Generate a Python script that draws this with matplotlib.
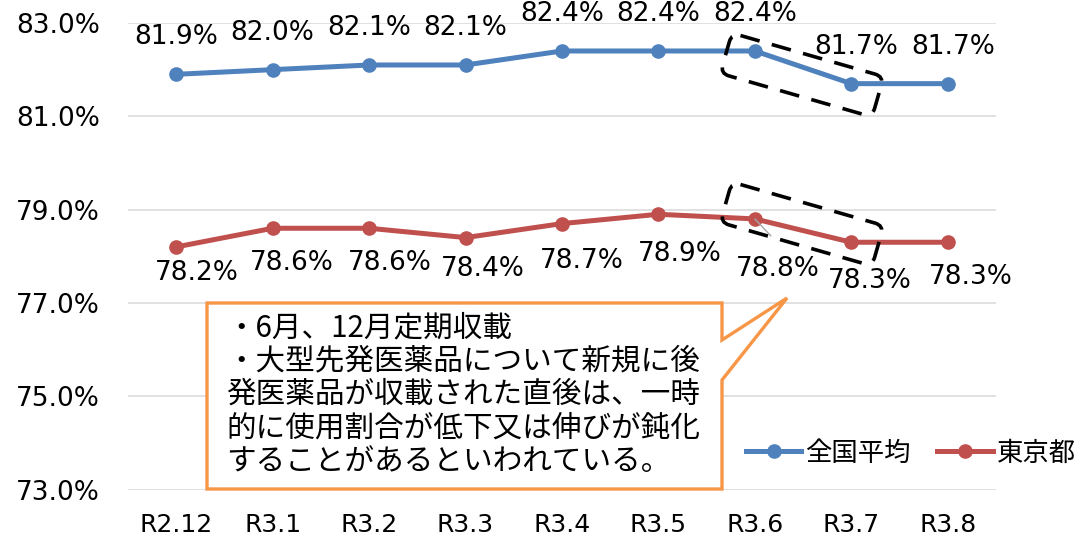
import matplotlib
matplotlib.use("Agg")
import matplotlib.pyplot as plt
from matplotlib.patches import FancyBboxPatch, Polygon
from matplotlib.transforms import Affine2D

# data
months = ["R2.12", "R3.1", "R3.2", "R3.3", "R3.4", "R3.5", "R3.6", "R3.7", "R3.8"]
national = [81.9, 82.0, 82.1, 82.1, 82.4, 82.4, 82.4, 81.7, 81.7]
tokyo = [78.2, 78.6, 78.6, 78.4, 78.7, 78.9, 78.8, 78.3, 78.3]
yticks = [73.0, 75.0, 77.0, 79.0, 81.0, 83.0]
series_names = ["全国平均", "東京都"]

# label offsets in pixels (dx, dy screen-down), hand-placed like the original
tokyo_label_off = [(21, 26), (19, 35), (21, 35), (17, 31), (20, 37),
                   (21, 40), (23, 50), (18, 39), (23, 35)]
nat_label_off = [(0, -37)] * 7 + [(5, -37), (5, -37)]

note = ("・6月、12月定期収載\n"
        "・大型先発医薬品について新規に後\n"
        "発医薬品が収載された直後は、一時\n"
        "的に使用割合が低下又は伸びが鈍化\n"
        "することがあるといわれている。")

BLUE = "#4F81BD"
RED = "#C0504D"
ORANGE = "#F79646"
CJK = ["Noto Sans CJK JP", "DejaVu Sans"]

W, H = 1087, 541
fig = plt.figure(figsize=(W / 100, H / 100), dpi=100)
ax = fig.add_axes([128 / W, 1 - 489.5 / H, 868 / W, 466.5 / H])

x = list(range(len(months)))
l1, = ax.plot(x, national, color=BLUE, lw=3.6, marker="o", ms=9.5, zorder=4)
l2, = ax.plot(x, tokyo, color=RED, lw=3.6, marker="o", ms=9.5, zorder=4)

ax.set_xlim(-0.5, len(months) - 0.5)
ax.set_ylim(73.0, 83.0)
ax.set_yticks(yticks)
ax.set_yticklabels([f"{v:.1f}%" for v in yticks])
ax.set_xticks(x)
ax.set_xticklabels(months)
ax.tick_params(axis="y", length=0, pad=20, labelsize=19)
ax.tick_params(axis="x", length=0, pad=17, labelsize=18)
ax.grid(axis="y", color="#D9D9D9", lw=1.1)
ax.set_axisbelow(True)
for s in ax.spines.values():
    s.set_visible(False)

P = 0.72  # px -> pt
for i, v in enumerate(national):
    dx, dy = nat_label_off[i]
    ax.annotate(f"{v:.1f}%", (i, v), xytext=(dx * P, -dy * P), textcoords="offset points",
                ha="center", va="center", fontsize=19, zorder=6)
for i, v in enumerate(tokyo):
    dx, dy = tokyo_label_off[i]
    ax.annotate(f"{v:.1f}%", (i, v), xytext=(dx * P, -dy * P), textcoords="offset points",
                ha="center", va="center", fontsize=19, zorder=6)

# thin leader line for the moved 78.8% label
ax.annotate("", (6, tokyo[6]), xytext=(16 * P, -17 * P), textcoords="offset points",
            arrowprops=dict(arrowstyle="-", color="#A6A6A6", lw=1.0, shrinkA=0, shrinkB=0),
            zorder=5)

# pixel coords (top-left origin) for the decorations
px = Affine2D().scale(1 / W, -1 / H).translate(0, 1) + fig.transFigure

for cy in (75, 224):
    r = FancyBboxPatch((-79, -21), 158, 42, boxstyle="round,pad=0,rounding_size=9",
                       fill=False, ec="black", lw=2.6, ls=(0, (5.5, 3.5)),
                       transform=Affine2D().rotate_deg(16).translate(802, cy) + px,
                       zorder=7)
    fig.add_artist(r)

callout = Polygon([(207, 303), (722, 303), (722, 340), (787, 298), (722, 380),
                   (722, 489), (207, 489)], closed=True, fc="white", ec=ORANGE,
                  lw=2.4, transform=px, zorder=8, joinstyle="miter")
fig.add_artist(callout)
fig.text(226 / W, 1 - 312 / H, note, ha="left", va="top", fontsize=21.3,
         family=CJK, linespacing=1.1, zorder=9)

ax.legend([l1, l2], series_names, loc="center left",
          bbox_to_anchor=(746 / W, 1 - 453 / H), bbox_transform=fig.transFigure,
          ncol=2, frameon=False, prop={"family": CJK, "size": 19},
          handlelength=2.1, handletextpad=0.15, columnspacing=1.0,
          borderpad=0, borderaxespad=0)

fig.savefig("out.png", dpi=100)
